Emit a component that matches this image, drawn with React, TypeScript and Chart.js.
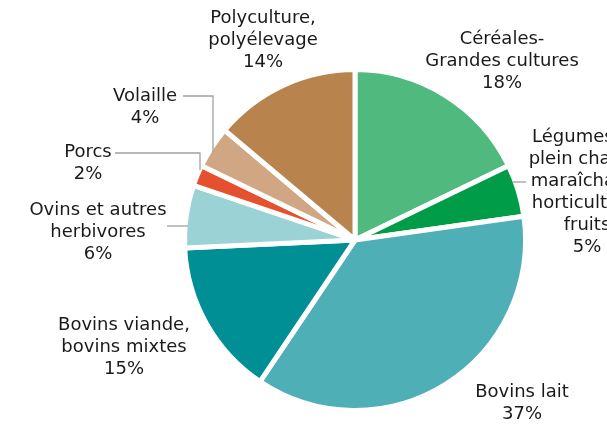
import React, { useEffect, useRef } from "react";
import { Chart, registerables } from "chart.js";

Chart.register(...registerables);

const categories = [
  "Céréales-Grandes cultures",
  "Légumes de plein champ, maraîchage, horticulture, fruits",
  "Bovins lait",
  "Bovins viande, bovins mixtes",
  "Ovins et autres herbivores",
  "Porcs",
  "Volaille",
  "Polyculture, polyélevage",
];
const values = [18, 5, 37, 15, 6, 2, 4, 14];
const labelLines = [
  ["Céréales-", "Grandes cultures", "18%"],
  ["Légumes de", "plein champ,", "maraîchage,", "horticulture,", "fruits", "5%"],
  ["Bovins lait", "37%"],
  ["Bovins viande,", "bovins mixtes", "15%"],
  ["Ovins et autres", "herbivores", "6%"],
  ["Porcs", "2%"],
  ["Volaille", "4%"],
  ["Polyculture,", "polyélevage", "14%"],
];
const colors = [
  "#4FB97E",
  "#009C47",
  "#4EAFB6",
  "#008F95",
  "#9AD2D5",
  "#E5502E",
  "#D0A782",
  "#B8834C",
];

// label placement (offsets from pie centre, px)
const labelPos: [number, number][] = [
  [147, -201],
  [232, -103],
  [167, 152],
  [-231, 85],
  [-257, -30],
  [-267, -88],
  [-210, -144],
  [-92, -222],
];
const leaders: ([number, number][] | null)[] = [
  null,
  [[158, -58], [171, -58]],
  null,
  null,
  [[-188, -14], [-167, -14]],
  [[-240, -87], [-155, -87], [-155, -70]],
  [[-172, -144], [-142, -144], [-142, -88]],
  null,
];

const LINE_H = 22;

const labelPlugin = {
  id: "pieLabels",
  afterDraw(chart: any) {
    const ctx = chart.ctx;
    const meta = chart.getDatasetMeta(0);
    const arc = meta.data[0];
    if (!arc) return;
    const cx = arc.x;
    const cy = arc.y;
    ctx.save();
    ctx.strokeStyle = "#A0A0A0";
    ctx.lineWidth = 1.3;
    leaders.forEach((pts) => {
      if (!pts) return;
      ctx.beginPath();
      pts.forEach((p, i) => {
        const x = cx + p[0];
        const y = cy + p[1];
        if (i === 0) ctx.moveTo(x, y);
        else ctx.lineTo(x, y);
      });
      ctx.stroke();
    });
    ctx.fillStyle = "#1a1a1a";
    ctx.font = "18px 'DejaVu Sans'";
    ctx.textAlign = "center";
    ctx.textBaseline = "middle";
    labelLines.forEach((lines, i) => {
      const [dx, dy] = labelPos[i];
      lines.forEach((t, j) => {
        ctx.fillText(t, cx + dx, cy + dy + j * LINE_H);
      });
    });
    ctx.restore();
  },
};

export default function App() {
  const ref = useRef<HTMLCanvasElement>(null);
  useEffect(() => {
    if (!ref.current) return;
    const chart = new Chart(ref.current, {
      type: "pie",
      data: {
        labels: categories,
        datasets: [
          {
            data: values,
            backgroundColor: colors,
            borderColor: "#ffffff",
            borderWidth: 5,
            hoverBorderWidth: 5,
            radius: 170.5,
          } as any,
        ],
      },
      options: {
        responsive: false,
        animation: false,
        layout: { padding: { left: 103, right: 0, top: 55, bottom: 0 } },
        plugins: {
          legend: { display: false },
          tooltip: { enabled: false },
        },
      },
      plugins: [labelPlugin],
    });
    return () => chart.destroy();
  }, []);
  return (
    <div style={{ position: "absolute", left: 0, top: 0, width: 607, height: 425, background: "#fff" }}>
      <canvas ref={ref} width={607} height={425} style={{ width: 607, height: 425 }} />
    </div>
  );
}
